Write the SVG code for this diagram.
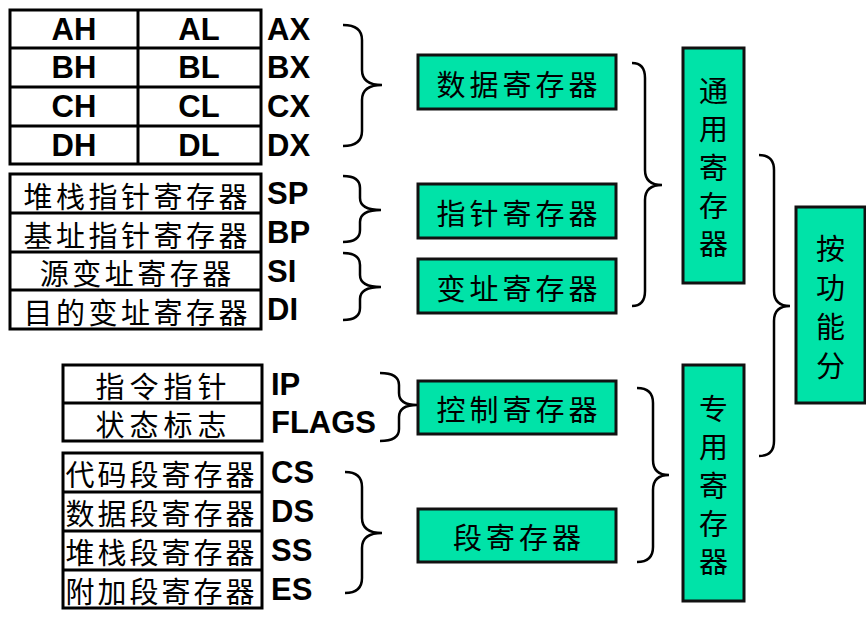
<svg xmlns="http://www.w3.org/2000/svg" width="866" height="626" viewBox="0 0 866 626">
<style>
.tb{fill:#fff;stroke:#000;stroke-width:3}
.ln{stroke:#000;stroke-width:3}
.lab{font-family:"Liberation Sans",Arial,sans-serif;font-weight:bold;font-size:31px;fill:#000}
.cj{font-family:"Noto Sans CJK SC",sans-serif;font-size:29px;fill:#000;text-anchor:middle;dominant-baseline:central}
.gb{fill:#00E3A8;stroke:#111;stroke-width:3}
.br{fill:none;stroke:#000;stroke-width:2.5}
.mid{text-anchor:middle}
</style>
<rect width="866" height="626" fill="#fff"/>

<g id="table-general">
  <rect class="tb" x="10" y="10" width="251" height="154"/>
  <line class="ln" x1="138" y1="10" x2="138" y2="164"/>
  <line class="ln" x1="10" y1="48" x2="261" y2="48"/>
  <line class="ln" x1="10" y1="87" x2="261" y2="87"/>
  <line class="ln" x1="10" y1="126" x2="261" y2="126"/>
  <text class="lab mid" x="74" y="40">AH</text>
  <text class="lab mid" x="199" y="40">AL</text>
  <text class="lab mid" x="74" y="78">BH</text>
  <text class="lab mid" x="199" y="78">BL</text>
  <text class="lab mid" x="74" y="117">CH</text>
  <text class="lab mid" x="199" y="117">CL</text>
  <text class="lab mid" x="74" y="156">DH</text>
  <text class="lab mid" x="199" y="156">DL</text>
  <text class="lab" x="267" y="40">AX</text>
  <text class="lab" x="267" y="78">BX</text>
  <text class="lab" x="267" y="117">CX</text>
  <text class="lab" x="267" y="156">DX</text>
</g>

<g id="table-pointer">
  <rect class="tb" x="10" y="174" width="251" height="155"/>
  <line class="ln" x1="10" y1="213" x2="261" y2="213"/>
  <line class="ln" x1="10" y1="252" x2="261" y2="252"/>
  <line class="ln" x1="10" y1="290" x2="261" y2="290"/>
  <text class="cj" x="137.2" y="194.5" style="letter-spacing:3.5px">堆栈指针寄存器</text>
  <text class="cj" x="137.2" y="233.5" style="letter-spacing:3.5px">基址指针寄存器</text>
  <text class="cj" x="137.2" y="272" style="letter-spacing:3.5px">源变址寄存器</text>
  <text class="cj" x="137.2" y="310.5" style="letter-spacing:3.5px">目的变址寄存器</text>
  <text class="lab" x="267" y="204">SP</text>
  <text class="lab" x="267" y="243">BP</text>
  <text class="lab" x="267" y="282">SI</text>
  <text class="lab" x="267" y="320">DI</text>
</g>

<g id="table-control">
  <rect class="tb" x="63" y="365" width="199" height="76"/>
  <line class="ln" x1="63" y1="403" x2="262" y2="403"/>
  <text class="cj" x="163.5" y="384.5" style="letter-spacing:5px">指令指针</text>
  <text class="cj" x="163.5" y="422.5" style="letter-spacing:5px">状态标志</text>
  <text class="lab" x="271" y="395">IP</text>
  <text class="lab" x="271" y="433">FLAGS</text>
</g>

<g id="table-segment">
  <rect class="tb" x="63" y="453" width="199" height="155"/>
  <line class="ln" x1="63" y1="492" x2="262" y2="492"/>
  <line class="ln" x1="63" y1="531" x2="262" y2="531"/>
  <line class="ln" x1="63" y1="570" x2="262" y2="570"/>
  <text class="cj" x="161.5" y="473" style="letter-spacing:3px">代码段寄存器</text>
  <text class="cj" x="161.5" y="512" style="letter-spacing:3px">数据段寄存器</text>
  <text class="cj" x="161.5" y="551" style="letter-spacing:3px">堆栈段寄存器</text>
  <text class="cj" x="161.5" y="589.5" style="letter-spacing:3px">附加段寄存器</text>
  <text class="lab" x="271" y="483">CS</text>
  <text class="lab" x="271" y="522">DS</text>
  <text class="lab" x="271" y="561">SS</text>
  <text class="lab" x="271" y="600">ES</text>
</g>

<g id="box-data">
  <rect class="gb" x="418" y="55" width="198" height="54"/>
  <text class="cj" x="519" y="82.5" style="letter-spacing:4px">数据寄存器</text>
</g>
<g id="box-pointer">
  <rect class="gb" x="418" y="184" width="198" height="54"/>
  <text class="cj" x="519" y="211.5" style="letter-spacing:4px">指针寄存器</text>
</g>
<g id="box-index">
  <rect class="gb" x="418" y="259" width="198" height="54"/>
  <text class="cj" x="519" y="286.5" style="letter-spacing:4px">变址寄存器</text>
</g>
<g id="box-control">
  <rect class="gb" x="418" y="381" width="198" height="53"/>
  <text class="cj" x="519" y="408" style="letter-spacing:4px">控制寄存器</text>
</g>
<g id="box-segment">
  <rect class="gb" x="418" y="509" width="198" height="53"/>
  <text class="cj" x="519" y="536" style="letter-spacing:4px">段寄存器</text>
</g>

<g id="box-general">
  <rect class="gb" x="683" y="48" width="61" height="235"/>
  <text class="cj"><tspan x="713.5" y="89">通</tspan><tspan x="713.5" y="127">用</tspan><tspan x="713.5" y="165.5">寄</tspan><tspan x="713.5" y="204">存</tspan><tspan x="713.5" y="242">器</tspan></text>
</g>
<g id="box-special">
  <rect class="gb" x="683" y="365" width="61" height="236"/>
  <text class="cj"><tspan x="713.5" y="407">专</tspan><tspan x="713.5" y="445">用</tspan><tspan x="713.5" y="483.5">寄</tspan><tspan x="713.5" y="521.5">存</tspan><tspan x="713.5" y="559.5">器</tspan></text>
</g>
<g id="box-function">
  <rect class="gb" x="796" y="207" width="69" height="196"/>
  <text class="cj"><tspan x="830.5" y="247">按</tspan><tspan x="830.5" y="286">功</tspan><tspan x="830.5" y="325">能</tspan><tspan x="830.5" y="364">分</tspan></text>
</g>

<g id="connectors">
  <path class="br" d="M343 25 Q362 25 362 40 V70 Q362 85 382 85 Q362 85 362 100 V131 Q362 146 343 146"/>
  <path class="br" d="M343 176 Q360 176 360 188 V198 Q360 210 381 210 Q360 210 360 222 V230 Q360 242 343 242"/>
  <path class="br" d="M343 253 Q360 253 360 265 V275 Q360 287 381 287 Q360 287 360 299 V308 Q360 320 343 320"/>
  <path class="br" d="M380 373 Q399 373 399 385 V393 Q399 405 417 405 Q399 405 399 417 V429 Q399 441 380 441"/>
  <path class="br" d="M345 472 Q362 472 362 487 V518 Q362 533 382 533 Q362 533 362 548 V578 Q362 593 345 593"/>
  <path class="br" d="M632 63 Q645 63 645 78 V170 Q645 185 662 185 Q645 185 645 200 V291 Q645 306 632 306"/>
  <path class="br" d="M637 388 Q653 388 653 403 V460 Q653 475 669 475 Q653 475 653 490 V547 Q653 562 637 562"/>
  <path class="br" d="M759 155 Q774 155 774 170 V291 Q774 306 790 306 Q774 306 774 321 V441 Q774 456 759 456"/>
</g>
</svg>
